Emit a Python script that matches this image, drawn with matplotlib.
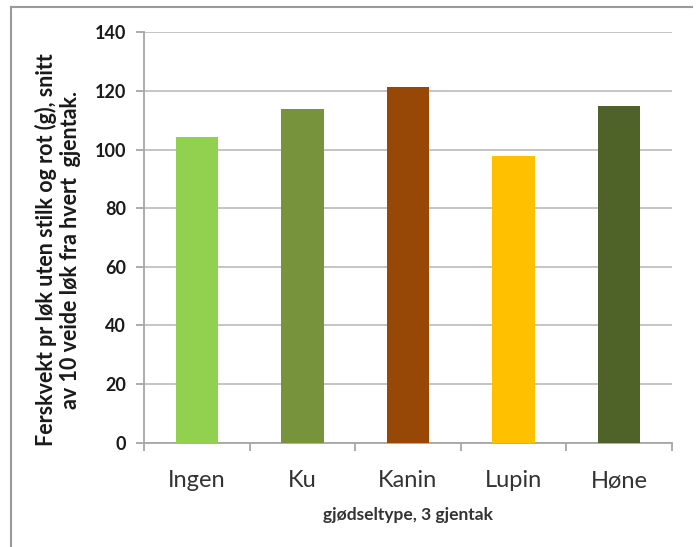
import matplotlib
matplotlib.use('Agg')
import matplotlib.pyplot as plt
from matplotlib.lines import Line2D
import numpy as np

categories = ['Ingen', 'Ku', 'Kanin', 'Lupin', 'Høne']
values = [104.4, 113.8, 121.5, 97.8, 115.0]
colors = ['#92D050', '#77933C', '#974706', '#FFC000', '#4F6228']
y_ticks = [0, 20, 40, 60, 80, 100, 120, 140]

plt.rcParams['font.family'] = ['Lato', 'DejaVu Sans']

W, H = 696, 547
fig = plt.figure(figsize=(W / 100, H / 100), dpi=100)
ax = fig.add_axes([144 / W, (H - 442.7) / H, 528 / W, 410.4 / H])

# outer chart frame: top and left edges only are in view
frame_col = '#9a9a9a'
fig.lines.append(Line2D([11 / W, 692 / W], [1 - 7 / H, 1 - 7 / H], transform=fig.transFigure,
                        color=frame_col, linewidth=1.5))
fig.lines.append(Line2D([11 / W, 11 / W], [0, 1 - 7 / H], transform=fig.transFigure,
                        color=frame_col, linewidth=1.5))

x = np.arange(len(categories))
ax.bar(x, values, width=0.4, color=colors, zorder=3)

ax.set_xlim(-0.5, len(categories) - 0.5)
ax.set_ylim(0, 140)
ax.set_yticks(y_ticks)
ax.set_yticklabels([str(t) for t in y_ticks], fontsize=13, fontweight='bold', color='#1a1a1a')
ax.yaxis.grid(True, color='#bfbfbf', linewidth=1.3, zorder=0)

# ticks at category boundaries, labels in the middle
ax.set_xticks(np.arange(-0.5, len(categories), 1.0))
ax.set_xticklabels([])
ax.set_xticks(x, minor=True)
ax.set_xticklabels(categories, minor=True, fontsize=17, color='#333333')
ax.tick_params(axis='x', which='minor', length=0, pad=20)
ax.tick_params(axis='x', which='major', length=6, color='#a6a6a6', width=1.3)
ax.tick_params(axis='y', length=6, color='#a6a6a6', width=1.3, pad=7)

for s in ['top', 'right']:
    ax.spines[s].set_visible(False)
for s in ['left', 'bottom']:
    ax.spines[s].set_color('#a6a6a6')
    ax.spines[s].set_linewidth(1.3)

fig.text(58 / W, (H - 250) / H,
         'Ferskvekt pr løk uten stilk og rot (g), snitt\nav 10 veide løk fra hvert  gjentak.',
         rotation=90, ha='center', va='center', multialignment='center',
         fontsize=15.5, fontweight='bold', linespacing=1.15, color='#1a1a1a')
fig.text(408 / W, (H - 515) / H, 'gjødseltype, 3 gjentak', ha='center', va='center',
         fontsize=12.5, fontweight='bold', color='#333333')

fig.savefig('out.png', dpi=100)
